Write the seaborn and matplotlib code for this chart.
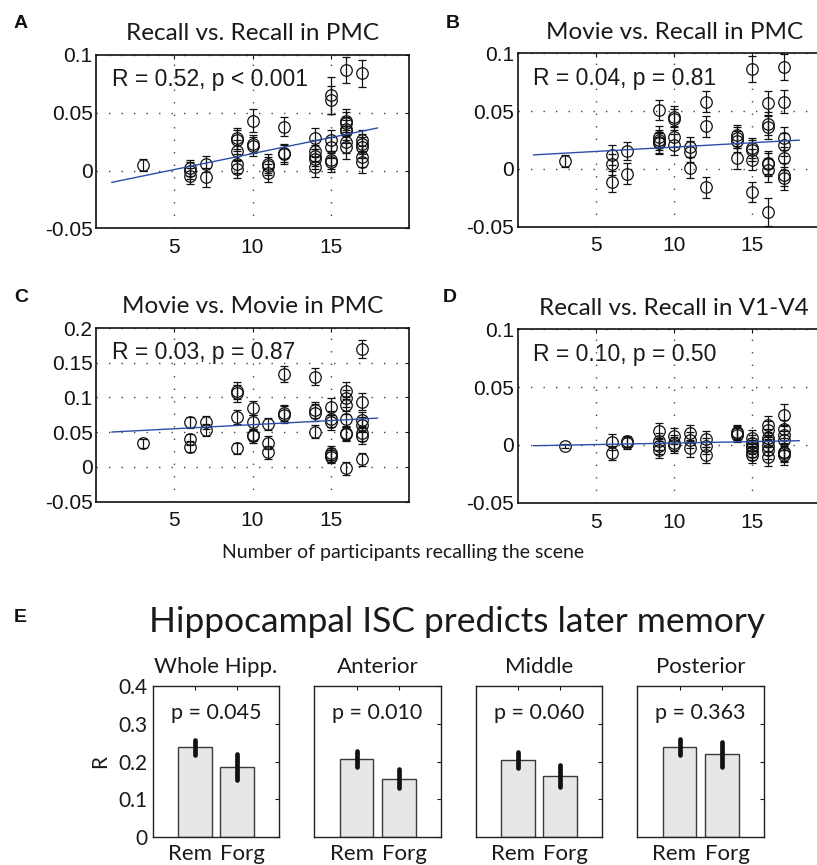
import numpy as np
import pandas as pd
import matplotlib
matplotlib.use("Agg")
import matplotlib.pyplot as plt
from matplotlib.transforms import ScaledTranslation
import seaborn as sns

# ---------------- data ----------------
x_A = [3, 6, 6, 6, 7, 7, 9, 9, 9, 9, 9, 10, 10, 10, 11, 11, 11, 12, 12, 12,
       14, 14, 14, 14, 14, 15, 15, 15, 15, 15, 15, 16, 16, 16, 16, 16, 16, 16,
       17, 17, 17, 17, 17, 17]
y_A = [0.005, 0.002, 0.000, -0.005, 0.006, -0.006, 0.028, 0.026, 0.017, 0.006, 0.0015,
       0.043, 0.023, 0.021, 0.006, 0.004, -0.002, 0.038, 0.015, 0.014,
       0.028, 0.017, 0.013, 0.010, 0.003, 0.065, 0.061, 0.026, 0.020, 0.009, 0.007,
       0.087, 0.043, 0.041, 0.036, 0.034, 0.025, 0.020,
       0.084, 0.026, 0.023, 0.020, 0.012, 0.007]
err_A = [0.005, 0.007, 0.007, 0.007, 0.007, 0.008, 0.009, 0.009, 0.009, 0.008, 0.008,
         0.010, 0.008, 0.008, 0.008, 0.008, 0.008, 0.008, 0.008, 0.008,
         0.009, 0.009, 0.009, 0.009, 0.009, 0.016, 0.012, 0.009, 0.009, 0.008, 0.008,
         0.011, 0.010, 0.010, 0.010, 0.010, 0.010, 0.010,
         0.012, 0.009, 0.009, 0.009, 0.009, 0.009]

x_B = [3, 6, 6, 6, 7, 7, 9, 9, 9, 9, 9, 10, 10, 10, 10, 11, 11, 11, 12, 12, 12,
       14, 14, 14, 14, 15, 15, 15, 15, 15, 16, 16, 16, 16, 16, 16, 16,
       17, 17, 17, 17, 17, 17, 17]
y_B = [0.007, 0.012, 0.004, -0.011, 0.0155, -0.004, 0.051, 0.028, 0.025, 0.023, 0.022,
       0.045, 0.043, 0.028, 0.021, 0.019, 0.015, 0.001, 0.058, 0.037, -0.016,
       0.029, 0.027, 0.024, 0.009, 0.0865, 0.018, 0.016, 0.008, -0.020,
       0.057, 0.039, 0.036, 0.0055, 0.004, -0.001, -0.037,
       0.088, 0.058, 0.0265, 0.021, 0.009, -0.005, -0.008]
err_B = [0.005, 0.009, 0.009, 0.009, 0.008, 0.009, 0.009, 0.009, 0.009, 0.009, 0.009,
         0.009, 0.009, 0.009, 0.009, 0.009, 0.009, 0.009, 0.009, 0.009, 0.009,
         0.009, 0.009, 0.009, 0.009, 0.011, 0.009, 0.009, 0.009, 0.009,
         0.010, 0.010, 0.010, 0.010, 0.010, 0.010, 0.012,
         0.011, 0.010, 0.010, 0.010, 0.010, 0.010, 0.010]

x_C = [3, 6, 6, 6, 7, 7, 9, 9, 9, 9, 10, 10, 10, 10, 11, 11, 11, 12, 12, 12,
       14, 14, 14, 14, 15, 15, 15, 15, 15, 15, 16, 16, 16, 16, 16, 16, 16,
       17, 17, 17, 17, 17, 17, 17]
y_C = [0.034, 0.064, 0.040, 0.029, 0.064, 0.053, 0.110, 0.106, 0.072, 0.027,
       0.085, 0.065, 0.046, 0.044, 0.0615, 0.035, 0.021, 0.134, 0.0775, 0.0755,
       0.130, 0.082, 0.078, 0.051, 0.087, 0.069, 0.064, 0.020, 0.0173, 0.015,
       0.110, 0.099, 0.0885, 0.069, 0.0495, 0.048, -0.002,
       0.170, 0.094, 0.068, 0.0606, 0.0486, 0.0447, 0.011]
err_C = [0.006, 0.008, 0.008, 0.008, 0.009, 0.009, 0.012, 0.012, 0.010, 0.008,
         0.010, 0.010, 0.009, 0.009, 0.009, 0.009, 0.009, 0.012, 0.012, 0.012,
         0.012, 0.012, 0.012, 0.009, 0.012, 0.011, 0.011, 0.010, 0.010, 0.010,
         0.012, 0.012, 0.012, 0.011, 0.010, 0.010, 0.009,
         0.013, 0.012, 0.011, 0.011, 0.011, 0.011, 0.009]

x_D = [3, 6, 6, 7, 7, 9, 9, 9, 9, 10, 10, 10, 11, 11, 11, 12, 12, 12,
       14, 14, 14, 15, 15, 15, 15, 15, 15, 16, 16, 16, 16, 16, 16, 16,
       17, 17, 17, 17, 17, 17, 17]
y_D = [-0.001, 0.0023, -0.0072, 0.003, 0.0015, 0.012, 0.003, -0.001, -0.004,
       0.008, 0.0014, 0.0, 0.010, 0.004, -0.003, 0.005, -0.001, -0.009,
       0.0115, 0.010, 0.0086, 0.006, 0.0014, -0.001, -0.003, -0.006, -0.009,
       0.017, 0.013, 0.006, 0.003, -0.001, -0.004, -0.010,
       0.026, 0.014, 0.0086, 0.004, -0.006, -0.007, -0.009]
err_D = [0.002, 0.007, 0.006, 0.005, 0.005, 0.007, 0.007, 0.007, 0.007,
         0.007, 0.007, 0.007, 0.007, 0.007, 0.007, 0.007, 0.007, 0.007,
         0.006, 0.006, 0.006, 0.007, 0.007, 0.007, 0.007, 0.007, 0.007,
         0.008, 0.008, 0.008, 0.008, 0.008, 0.008, 0.008,
         0.009, 0.008, 0.008, 0.008, 0.008, 0.008, 0.008]

scatter_titles = ["Recall vs. Recall in PMC", "Movie vs. Recall in PMC",
                  "Movie vs. Movie in PMC", "Recall vs. Recall in V1-V4"]
scatter_stats = ["R = 0.52, p < 0.001", "R = 0.04, p = 0.81",
                 "R = 0.03, p = 0.87", "R = 0.10, p = 0.50"]
x_ticks = [5, 10, 15]
yticks_small = [-0.05, 0, 0.05, 0.1]
yticklabels_small = ["-0.05", "0", "0.05", "0.1"]
yticks_large = [-0.05, 0, 0.05, 0.1, 0.15, 0.2]
yticklabels_large = ["-0.05", "0", "0.05", "0.1", "0.15", "0.2"]
xlabel_text = "Number of participants recalling the scene"

regions = ["Whole Hipp.", "Anterior", "Middle", "Posterior"]
conditions = ["Rem", "Forg"]
rem_R = [0.238, 0.206, 0.204, 0.238]
forg_R = [0.185, 0.155, 0.162, 0.219]
rem_err = [0.020, 0.021, 0.021, 0.022]
forg_err = [0.034, 0.025, 0.028, 0.033]
p_texts = ["p = 0.045", "p = 0.010", "p = 0.060", "p = 0.363"]
bar_yticks = [0, 0.1, 0.2, 0.3, 0.4]
bar_yticklabels = ["0", "0.1", "0.2", "0.3", "0.4"]
e_title = "Hippocampal ISC predicts later memory"

# ---------------- style ----------------
sns.set_theme(style="white")
plt.rcParams['font.family'] = ['Liberation Sans', 'DejaVu Sans']
HUM = ['Lato', 'DejaVu Sans']

W, H = 817, 865
fig = plt.figure(figsize=(W / 100, H / 100), dpi=100)


def frac(l, t, w, h):
    return [l / W, 1 - (t + h) / H, w / W, h / H]


def scatter_panel(rect, x, y, err, ylim, yticks, yticklabels, title, stat):
    ax = fig.add_axes(rect)
    ax.errorbar(x, y, yerr=err, fmt='o', ms=8.3, mfc='none', mec='#111111', mew=0.9,
                ecolor='#111111', elinewidth=0.9, capsize=3, capthick=0.9, zorder=3)
    ax.set_xlim(1, 18)
    sns.regplot(x=np.array(x, float), y=np.array(y, float), ax=ax, scatter=False,
                ci=None, truncate=False,
                line_kws=dict(color='#2c4ea6', lw=1.0, zorder=4))
    ax.set_xlim(0, 20)
    ax.set_ylim(*ylim)
    ax.set_xticks(x_ticks)
    ax.set_xticklabels([str(t) for t in x_ticks])
    ax.set_yticks(yticks)
    ax.set_yticklabels(yticklabels)
    ax.set_xlabel("")
    ax.set_ylabel("")
    ax.grid(True, linestyle=(0, (1, 8)), color='#444444', linewidth=1.0)
    ax.tick_params(direction='in', length=3, width=0.8, top=True, right=True,
                   labelsize=15, colors='#111111')
    ax.tick_params(axis='x', pad=7)
    ax.tick_params(axis='y', pad=2.5)
    for s in ax.spines.values():
        s.set_visible(True)
        s.set_color('#111111')
        s.set_linewidth(1.2)
    ax.set_title(title, fontfamily=HUM, fontsize=17.5, pad=10.5, color='#1a1a1a')
    ax.text(0.05, 0.82, stat, transform=ax.transAxes, ha='left', va='baseline',
            fontsize=16.5, color='#1a1a1a')
    return ax


scatter_panel(frac(96, 55, 313, 173.3), x_A, y_A, err_A, (-0.05, 0.1),
              yticks_small, yticklabels_small, scatter_titles[0], scatter_stats[0])
scatter_panel(frac(517.7, 53.3, 313, 173.4), x_B, y_B, err_B, (-0.05, 0.1),
              yticks_small, yticklabels_small, scatter_titles[1], scatter_stats[1])
scatter_panel(frac(96, 328, 313, 173.7), x_C, y_C, err_C, (-0.05, 0.2),
              yticks_large, yticklabels_large, scatter_titles[2], scatter_stats[2])
scatter_panel(frac(517.7, 329.3, 313, 173.5), x_D, y_D, err_D, (-0.05, 0.1),
              yticks_small, yticklabels_small, scatter_titles[3], scatter_stats[3])

fig.text(403 / W, 1 - 558 / H, xlabel_text, ha='center', va='baseline',
         fontfamily=HUM, fontsize=14, color='#1a1a1a')

# panel letters
for lab, px, py in [("A", 21, 24), ("B", 453, 24), ("C", 21, 297), ("D", 450, 297),
                    ("E", 20, 618)]:
    fig.text(px / W, 1 - py / H, lab, ha='center', va='center', fontweight='bold',
             fontsize=14, color='#111111')

fig.text(457 / W, 1 - 631.7 / H, e_title, ha='center', va='baseline',
         fontfamily=HUM, fontsize=25.5, color='#1a1a1a')

bar_lefts = [152.7, 314.3, 475.7, 637.3]
for i, reg in enumerate(regions):
    ax = fig.add_axes(frac(bar_lefts[i], 685.7, 126.6, 151.6))
    df = pd.DataFrame({"cond": conditions, "R": [rem_R[i], forg_R[i]]})
    sns.barplot(data=df, x="cond", y="R", ax=ax, color='#e6e7e9', saturation=1,
                edgecolor='#3a3a3a', linewidth=1.0, width=0.8, errorbar=None)
    eb = ax.errorbar([0, 1], [rem_R[i], forg_R[i]], yerr=[rem_err[i], forg_err[i]],
                     fmt='none', ecolor='#111111', elinewidth=3.4, capsize=0, zorder=5)
    for lc in eb[2]:
        lc.set_capstyle('round')
    ax.set_xlim(-1, 2)
    ax.set_ylim(0, 0.4)
    ax.set_yticks(bar_yticks)
    if i == 0:
        ax.set_yticklabels(bar_yticklabels, fontfamily=HUM)
        ax.set_ylabel("R", fontfamily=HUM, fontsize=15, color='#1a1a1a')
        ax.yaxis.set_label_coords(-0.34, 0.5)
    else:
        ax.set_yticklabels([])
        ax.set_ylabel("")
    ax.set_xticks([0, 1])
    ax.set_xticklabels(conditions, fontfamily=HUM)
    ax.set_xlabel("")
    ax.tick_params(direction='in', length=3, width=0.8, top=True, right=True,
                   labelsize=15, colors='#1a1a1a')
    ax.tick_params(axis='x', labelsize=16, pad=5)
    ax.tick_params(axis='y', pad=4)
    xl = ax.get_xticklabels()
    xl[0].set_ha('right')
    xl[0].set_transform(xl[0].get_transform() + ScaledTranslation(0.17, 0, fig.dpi_scale_trans))
    xl[1].set_ha('left')
    xl[1].set_transform(xl[1].get_transform() + ScaledTranslation(-0.167, 0, fig.dpi_scale_trans))
    for s in ax.spines.values():
        s.set_visible(True)
        s.set_color('#222222')
        s.set_linewidth(1.0)
    ax.set_title(reg, fontfamily=HUM, fontsize=16, pad=8.9, color='#1a1a1a')
    ax.text(0.5, 0.311 / 0.4, p_texts[i], transform=ax.transAxes, ha='center',
            va='baseline', fontfamily=HUM, fontsize=15.5, color='#1a1a1a')

fig.savefig("out.png", dpi=100)
